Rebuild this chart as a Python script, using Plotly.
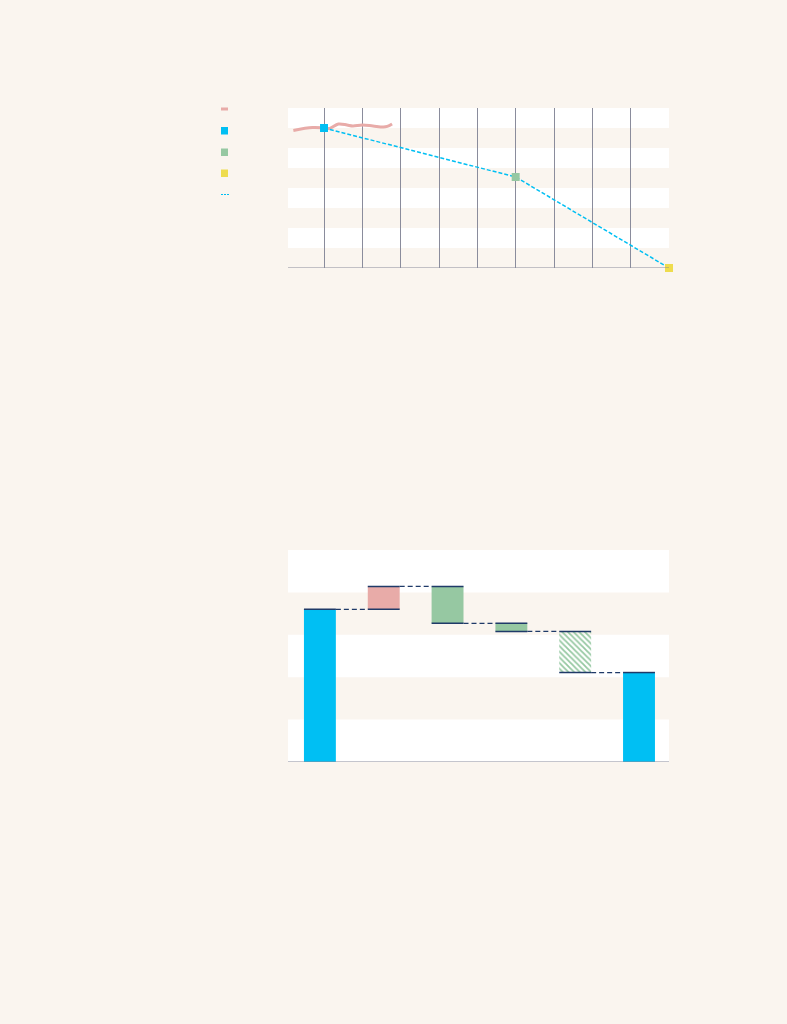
import plotly.graph_objects as go

# top chart: history line and target path
hist_years = [2018.4, 2019.4, 2020.0, 2020.3, 2020.75, 2021.2, 2021.5, 2022.0, 2022.55, 2023.1, 2023.3, 2023.55]
hist_values = [6.88, 7.02, 7.0, 6.98, 7.2, 7.15, 7.1, 7.15, 7.1, 7.05, 7.08, 7.2]
path_years = [2020, 2030, 2038]
path_values = [7.0, 4.55, 0.0]
grid_years = list(range(2020, 2037, 2))

# bottom chart: waterfall steps
steps = [36.0, 5.4, -8.7, -1.9, -9.7, 21.1]
step_kind = ["total", "up", "down", "down", "hatch", "total"]

CREAM = "#FAF5EF"
BLUE = "#00BFF3"
PINK = "#E8ABA8"
GREEN = "#96C8A2"
YELLOW = "#EEDC4E"
NAVY = "#1F3A68"
GREY = "#8A8C9C"

fig = go.Figure()

fig.add_trace(go.Scatter(x=hist_years, y=hist_values, mode="lines", line=dict(color=PINK, width=3, shape="spline"),
                         xaxis="x", yaxis="y", showlegend=False, hoverinfo="skip"))
fig.add_trace(go.Scatter(x=path_years, y=path_values, mode="lines", line=dict(color=BLUE, width=1.5, dash="4px,2px"),
                         xaxis="x", yaxis="y", showlegend=False, hoverinfo="skip"))
fig.add_trace(go.Scatter(x=path_years, y=path_values, mode="markers", cliponaxis=False,
                         marker=dict(symbol="square", size=8, color=[BLUE, GREEN, YELLOW]),
                         xaxis="x", yaxis="y", showlegend=False, hoverinfo="skip"))

# waterfall bars
bases, heights, colors, patterns = [], [], [], []
level = 0
for v, k in zip(steps, step_kind):
    if k == "total":
        bases.append(0)
        heights.append(v)
        level = v
    else:
        bases.append(min(level, level + v))
        heights.append(abs(v))
        level = level + v
    colors.append({"total": BLUE, "up": PINK, "down": GREEN, "hatch": GREEN}[k])
    patterns.append("\\" if k == "hatch" else "")

xs = list(range(len(steps)))
fig.add_trace(go.Bar(x=xs, y=heights, base=bases, width=0.5, xaxis="x2", yaxis="y2",
                     marker=dict(color=colors, line=dict(width=0),
                                 pattern=dict(shape=patterns, bgcolor="white", fillmode="replace",
                                              size=4, solidity=0.45)),
                     showlegend=False, hoverinfo="skip"))

# connectors: solid over bar edges, dashed in between
ends = []
level = 0
for v, k in zip(steps, step_kind):
    level = v if k == "total" else level + v
    ends.append(level)
sx, sy, dx, dy = [], [], [], []
for i in range(len(steps) - 1):
    lv = ends[i]
    sx += [i - 0.25, i + 0.25, None, i + 0.75, i + 1.25, None]
    sy += [lv, lv, None, lv, lv, None]
    dx += [i + 0.25, i + 0.75, None]
    dy += [lv, lv, None]
fig.add_trace(go.Scatter(x=dx, y=dy, mode="lines", line=dict(color=NAVY, width=1.3, dash="5px,3px"),
                         xaxis="x2", yaxis="y2", showlegend=False, hoverinfo="skip"))
fig.add_trace(go.Scatter(x=sx, y=sy, mode="lines", line=dict(color=NAVY, width=1.5),
                         xaxis="x2", yaxis="y2", showlegend=False, hoverinfo="skip"))

shapes = []
# white bands
for b in range(0, 8, 2):
    shapes.append(dict(type="rect", xref="x domain", yref="y", x0=0, x1=1, y0=7 - b, y1=8 - b,
                       fillcolor="white", line_width=0, layer="below"))
for b in [0, 20, 40]:
    shapes.append(dict(type="rect", xref="x2 domain", yref="y2", x0=0, x1=1, y0=b, y1=b + 10,
                       fillcolor="white", line_width=0, layer="below"))

# baselines
shapes.append(dict(type="line", xref="x domain", yref="y", x0=0, x1=1, y0=0, y1=0, line=dict(color=GREY, width=1.2)))
shapes.append(dict(type="line", xref="x2 domain", yref="y2", x0=0, x1=1, y0=0, y1=0, line=dict(color=GREY, width=1.2)))

# legend keys
W, H = 787, 1024
def key_rect(x0, y0, x1, y1, color):
    return dict(type="rect", xref="paper", yref="paper", x0=x0 / W, x1=x1 / W,
                y0=1 - y1 / H, y1=1 - y0 / H, fillcolor=color, line_width=0)
shapes.append(key_rect(221, 107.5, 228, 110.5, PINK))
shapes.append(key_rect(221, 127, 228, 134.5, BLUE))
shapes.append(key_rect(221, 148.5, 228, 156, GREEN))
shapes.append(key_rect(221, 169.5, 228, 177, YELLOW))
shapes.append(dict(type="line", xref="paper", yref="paper", x0=221 / W, x1=229 / W,
                   y0=1 - 194.5 / H, y1=1 - 194.5 / H, line=dict(color=BLUE, width=1.2, dash="2px,1px")))

fig.update_layout(
    width=W, height=H,
    margin=dict(l=0, r=0, t=0, b=0),
    paper_bgcolor=CREAM, plot_bgcolor=CREAM,
    shapes=shapes,
    xaxis=dict(domain=[288 / W, 669 / W], range=[2018.12, 2038], tickvals=grid_years, showticklabels=False,
               showgrid=True, gridcolor=GREY, gridwidth=1, zeroline=False,
               showline=False, ticks=""),
    yaxis=dict(domain=[1 - 268 / H, 1 - 108 / H], range=[0, 8], showticklabels=False, showgrid=False,
               zeroline=False, showline=False),
    xaxis2=dict(domain=[288 / W, 669 / W], range=[-0.5, 5.47], showticklabels=False, showgrid=False,
                zeroline=False, showline=False, anchor="y2"),
    yaxis2=dict(domain=[1 - 762 / H, 1 - 550 / H], range=[0, 50], showticklabels=False, showgrid=False,
                zeroline=False, showline=False, anchor="x2"),
)

fig.write_html("out.html", config={"displayModeBar": False},
               post_script="document.body.style.margin='0';document.body.style.background='" + CREAM + "';")
